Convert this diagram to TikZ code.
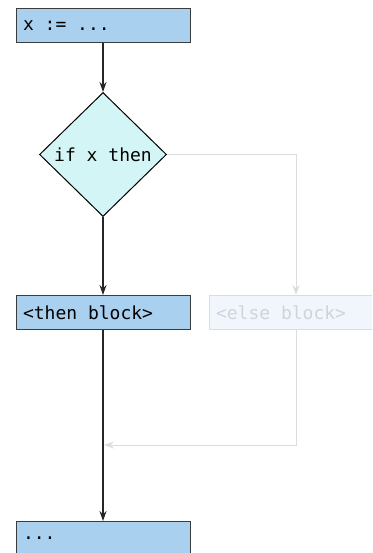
\documentclass[tikz,border=0pt]{standalone}
\usepackage{fontspec}
\setmonofont{DejaVu Sans Mono}
\usetikzlibrary{shapes.geometric, arrows.meta, positioning, calc}
\definecolor{blockBlue}{RGB}{170, 208, 240}
\definecolor{condCyan}{RGB}{212, 245, 245}
\definecolor{lineDark}{RGB}{60, 60, 60}
\definecolor{fadeFill}{RGB}{241, 246, 253}
\definecolor{fadeLine}{RGB}{218, 220, 224}
\definecolor{fadeText}{RGB}{208, 212, 218}

\begin{document}
\begin{tikzpicture}[
    x=1pt, y=1pt,
    node distance=49pt and 18pt,
    font=\ttfamily\fontsize{18}{21}\selectfont,
    % bloque de codigo
    block/.style={
        draw=lineDark,
        fill=blockBlue,
        line width=1pt,
        minimum width=174pt,
        minimum height=34pt,
        text width=160pt,
        inner xsep=6pt,
        align=left,
        execute at begin node={\spaceskip=0pt\xspaceskip=0pt}
    },
    % condicion
    decision/.style={
        diamond,
        draw=black,
        fill=condCyan,
        line width=1pt,
        minimum width=127pt,
        minimum height=124pt,
        inner sep=0pt
    },
    % rama inactiva
    faded/.style={
        block,
        draw=fadeLine,
        fill=fadeFill,
        text=fadeText
    },
    arrow/.style={
        -{Stealth[length=10pt, width=7pt]},
        line width=1.3pt,
        black!85
    },
    fadedarrow/.style={
        arrow,
        line width=1pt,
        fadeLine
    }
]
    \clip (0,0) rectangle (372,-553);
    \useasboundingbox (0,0) rectangle (372,-553);

    % --- Bloques ---
    \node[block] (assign) at (103,-25.5) {x := ...};
    \node[decision, below=of assign] (cond) {if x then};
    \node[block, below=78pt of cond] (then_blk) {<then block>};
    \node[faded, right=of then_blk] (else_blk) {<else block>};
    \node[block, below=191pt of then_blk] (rest) {...};

    % --- Flechas ---
    \draw[arrow] (assign) -- (cond);
    \draw[arrow] (cond) -- (then_blk);
    \draw[arrow] (then_blk) -- (rest);

    % rama else
    \coordinate (merge) at ($(then_blk.south)+(1,-115)$);
    \draw[fadedarrow] (cond.east) -| (else_blk.north);
    \draw[fadedarrow] (else_blk.south) |- (merge);

\end{tikzpicture}
\end{document}
